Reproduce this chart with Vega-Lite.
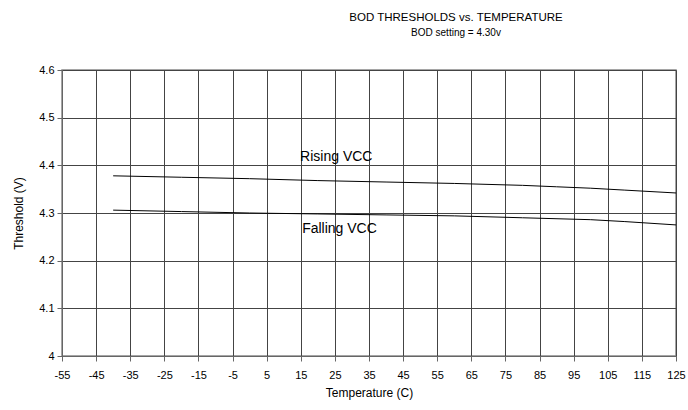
{
  "$schema": "https://vega.github.io/schema/vega-lite/v6.json",
  "width": 614,
  "height": 286,
  "autosize": {"type": "none"},
  "padding": {"left": 62, "top": 70, "right": 12, "bottom": 54},
  "background": "white",
  "config": {
    "font": "Liberation Sans",
    "view": {"stroke": "#888888", "strokeWidth": 1.5}
  },
  "title": {
    "text": "BOD THRESHOLDS vs. TEMPERATURE",
    "subtitle": "BOD setting = 4.30v",
    "anchor": "middle",
    "dx": 87,
    "offset": 26,
    "fontSize": 11.5,
    "fontWeight": "normal",
    "color": "#000000",
    "subtitleFontSize": 10,
    "subtitleColor": "#000000",
    "subtitlePadding": 5
  },
  "datasets": {
    "curves": [
      {"t": -40, "v": 4.378, "s": "Rising"},
      {"t": -20, "v": 4.375, "s": "Rising"},
      {"t": 0, "v": 4.372, "s": "Rising"},
      {"t": 20, "v": 4.368, "s": "Rising"},
      {"t": 40, "v": 4.365, "s": "Rising"},
      {"t": 60, "v": 4.362, "s": "Rising"},
      {"t": 80, "v": 4.358, "s": "Rising"},
      {"t": 90, "v": 4.355, "s": "Rising"},
      {"t": 100, "v": 4.352, "s": "Rising"},
      {"t": 110, "v": 4.348, "s": "Rising"},
      {"t": 125, "v": 4.342, "s": "Rising"},
      {"t": -40, "v": 4.306, "s": "Falling"},
      {"t": -20, "v": 4.303, "s": "Falling"},
      {"t": 0, "v": 4.300, "s": "Falling"},
      {"t": 20, "v": 4.298, "s": "Falling"},
      {"t": 40, "v": 4.296, "s": "Falling"},
      {"t": 60, "v": 4.294, "s": "Falling"},
      {"t": 80, "v": 4.290, "s": "Falling"},
      {"t": 100, "v": 4.286, "s": "Falling"},
      {"t": 110, "v": 4.282, "s": "Falling"},
      {"t": 125, "v": 4.275, "s": "Falling"}
    ],
    "labels": [
      {"t": 14.8, "v": 4.418, "label": "Rising VCC"},
      {"t": 15.4, "v": 4.267, "label": "Falling VCC"}
    ]
  },
  "layer": [
    {
      "data": {"name": "curves"},
      "mark": {"type": "line", "color": "#000000", "strokeWidth": 1},
      "encoding": {
        "x": {
          "field": "t", "type": "quantitative",
          "scale": {"domain": [-55, 125], "nice": false},
          "axis": {
            "title": "Temperature (C)",
            "values": [-55, -45, -35, -25, -15, -5, 5, 15, 25, 35, 45, 55, 65, 75, 85, 95, 105, 115, 125],
            "tickCount": 19,
            "labelExpr": "datum.value < 0 ? '-' + abs(datum.value) : '' + datum.value",
            "labelOverlap": false,
            "labelBound": false,
            "labelFlush": false,
            "grid": true, "gridColor": "#444444", "gridOpacity": 1, "gridWidth": 1,
            "domainColor": "#666666", "tickColor": "#666666", "tickSize": 5,
            "labelFontSize": 11, "labelColor": "#000000", "labelPadding": 8,
            "titleFontSize": 12, "titleFontWeight": "normal", "titleColor": "#000000", "titlePadding": 7
          }
        },
        "y": {
          "field": "v", "type": "quantitative",
          "scale": {"domain": [4, 4.6], "nice": false, "zero": false},
          "axis": {
            "title": "Threshold (V)",
            "values": [4, 4.1, 4.2, 4.3, 4.4, 4.5, 4.6],
            "tickCount": 7,
            "labelExpr": "datum.value == 4 ? '4' : format(datum.value, '.1f')",
            "labelOverlap": false,
            "grid": true, "gridColor": "#444444", "gridOpacity": 1, "gridWidth": 1,
            "domainColor": "#666666", "tickColor": "#666666", "tickSize": 5,
            "labelFontSize": 11, "labelColor": "#000000", "labelPadding": 3,
            "titleFontSize": 12, "titleFontWeight": "normal", "titleColor": "#000000", "titlePadding": 13
          }
        },
        "detail": {"field": "s"}
      }
    },
    {
      "data": {"name": "labels"},
      "mark": {"type": "text", "align": "left", "baseline": "middle", "fontSize": 14, "color": "#000000"},
      "encoding": {
        "x": {"field": "t", "type": "quantitative"},
        "y": {"field": "v", "type": "quantitative"},
        "text": {"field": "label"}
      }
    }
  ]
}
